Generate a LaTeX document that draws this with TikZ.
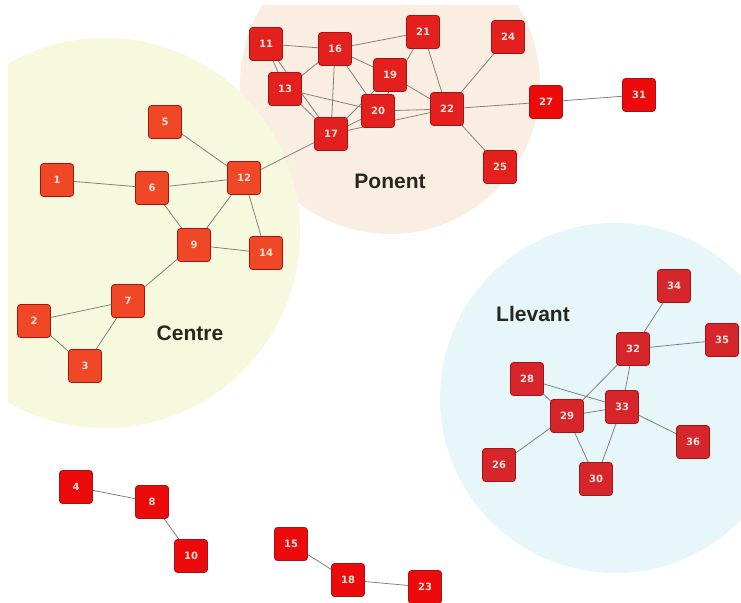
\documentclass[tikz,border=0pt]{standalone}
\usepackage{fontspec}
\setmainfont{DejaVu Sans}
\newfontfamily\labelfont{Liberation Sans}
\pgfdeclarelayer{bgl}
\pgfdeclarelayer{edgel}
\pgfsetlayers{bgl,edgel,main}
\definecolor{centrebg}{RGB}{246,249,222}
\definecolor{ponentbg}{RGB}{250,238,226}
\definecolor{llevantbg}{RGB}{230,246,249}
\definecolor{cnode}{RGB}{240,72,38}
\definecolor{pnode}{RGB}{228,32,30}
\definecolor{bnode}{RGB}{236,10,10}
\definecolor{lnode}{RGB}{214,38,44}
\definecolor{nborder}{RGB}{165,20,20}
\definecolor{ntext}{RGB}{255,228,218}
\definecolor{edgecol}{RGB}{130,130,125}
\definecolor{labcol}{RGB}{38,40,30}
\tikzset{
  nd/.style={draw=nborder, line width=0.8pt, rounded corners=3pt, minimum width=33pt, minimum height=33pt,
    inner sep=0pt, text=ntext, font=\fontsize{10}{10}\selectfont\bfseries},
  cn/.style={nd, fill=cnode},
  pn/.style={nd, fill=pnode},
  bn/.style={nd, fill=bnode},
  ln/.style={nd, fill=lnode},
  edge/.style={draw=edgecol, line width=0.8pt},
  grouplabel/.style={text=labcol, font=\labelfont\fontsize{21}{21}\selectfont\bfseries}
}
\begin{document}
\begin{tikzpicture}[x=1pt,y=-1pt]
\useasboundingbox (0,0) rectangle (741,602);
\begin{pgfonlayer}{bgl}
  \fill[white] (0,0) rectangle (741,602);
  \begin{scope}
    \clip (0,6) rectangle (741,602);
    \fill[ponentbg] (390,84) circle (150);
  \end{scope}
  \begin{scope}
    \clip (8,0) rectangle (741,602);
    \fill[centrebg] (105,233) circle (195);
  \end{scope}
  \fill[llevantbg] (615,398) circle (175);
\end{pgfonlayer}

% Centre
\node[cn] (n1) at (57,180) {1};
\node[cn] (n2) at (34,321) {2};
\node[cn] (n3) at (85,366) {3};
\node[cn] (n5) at (165,122) {5};
\node[cn] (n6) at (152,188) {6};
\node[cn] (n7) at (128,301) {7};
\node[cn] (n9) at (194,245) {9};
\node[cn] (n12) at (244,178) {12};
\node[cn] (n14) at (266,253) {14};
% Ponent
\node[pn] (n11) at (266,44) {11};
\node[pn] (n13) at (285,89) {13};
\node[pn] (n16) at (335,49) {16};
\node[pn] (n17) at (331,134) {17};
\node[pn] (n19) at (390,75) {19};
\node[pn] (n20) at (378,111) {20};
\node[pn] (n21) at (423,32) {21};
\node[pn] (n22) at (447,109) {22};
\node[pn] (n24) at (508,37) {24};
\node[pn] (n25) at (500,167) {25};
% bright
\node[bn] (n27) at (546,102) {27};
\node[bn] (n31) at (639,95) {31};
\node[bn] (n4) at (76,487) {4};
\node[bn] (n8) at (152,502) {8};
\node[bn] (n10) at (191,556) {10};
\node[bn] (n15) at (291,544) {15};
\node[bn] (n18) at (348,580) {18};
\node[bn] (n23) at (425,587) {23};
% Llevant
\node[ln] (n26) at (499,465) {26};
\node[ln] (n28) at (527,379) {28};
\node[ln] (n29) at (567,416) {29};
\node[ln] (n30) at (596,479) {30};
\node[ln] (n32) at (633,349) {32};
\node[ln] (n33) at (622,407) {33};
\node[ln] (n34) at (674,286) {34};
\node[ln] (n35) at (722,340) {35};
\node[ln] (n36) at (693,442) {36};

\node[grouplabel] (lp) at (390,181) {Ponent};
\node[grouplabel] (lc) at (190,333) {Centre};
\node[grouplabel] (ll) at (533,314) {Llevant};

\begin{pgfonlayer}{edgel}
  \foreach \a/\b in {1/6,5/12,6/12,6/9,9/12,12/14,9/14,9/7,7/2,7/3,2/3,12/17,
     11/16,11/13,11/17,13/16,13/17,13/20,16/17,16/19,16/20,16/21,17/19,17/20,17/22,
     19/22,20/21,20/22,21/22,22/24,22/25,22/27,27/31,
     34/32,32/35,32/33,32/29,28/33,28/29,29/33,33/36,33/30,29/30,29/26,
     4/8,8/10,15/18,18/23}
    \draw[edge] (n\a.center) -- (n\b.center);
\end{pgfonlayer}
\end{tikzpicture}
\end{document}
